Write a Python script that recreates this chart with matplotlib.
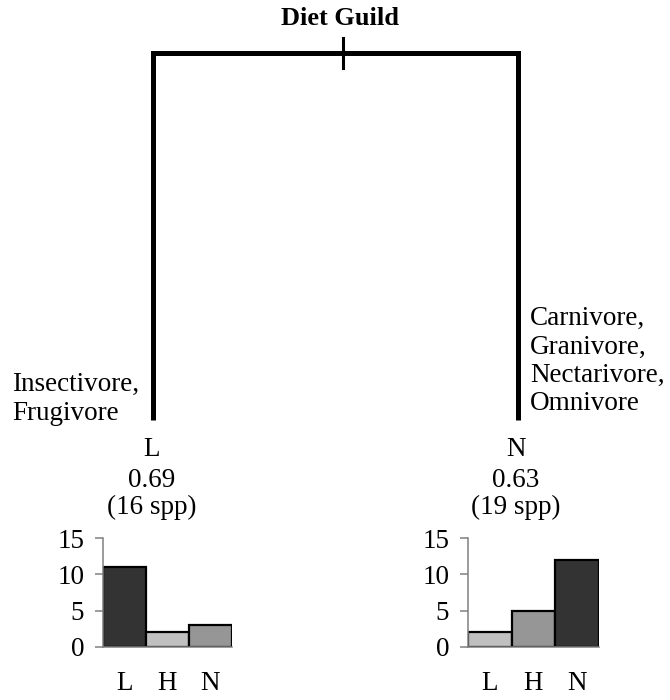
import matplotlib.pyplot as plt

plt.rcParams['font.family'] = ['Liberation Serif', 'DejaVu Serif']

title = "Diet Guild"
categories = ["L", "H", "N"]

# left node
left_label = ["Insectivore,", "Frugivore"]
left_class = "L"
left_prob = 0.69
left_spp = 16
left_counts = [11, 2, 3]

# right node
right_label = ["Carnivore,", "Granivore,", "Nectarivore,", "Omnivore"]
right_class = "N"
right_prob = 0.63
right_spp = 19
right_counts = [2, 5, 12]

W, H = 670, 700
fs = 19.5
fig = plt.figure(figsize=(W / 100, H / 100), dpi=100)

# tree drawn in pixel coordinates
tree = fig.add_axes([0, 0, 1, 1])
tree.set_xlim(0, W)
tree.set_ylim(H, 0)
tree.axis('off')

node_x = [153, 518]
top_y, leaf_y = 53, 420
split_x = 343
tree.plot([node_x[0], node_x[0], node_x[1], node_x[1]],
          [leaf_y, top_y, top_y, leaf_y], color='black', lw=3.6,
          solid_joinstyle='miter', solid_capstyle='butt')
tree.plot([split_x, split_x], [38, 68], color='black', lw=2.2)
tree.text(340, 25, title, ha='center', va='baseline', fontsize=19,
          fontweight='bold')

for i, s in enumerate(left_label):
    tree.text(12, 391 + 28.5 * i, s, ha='left', va='baseline', fontsize=fs)
for i, s in enumerate(right_label):
    tree.text(530, 325 + 28.5 * i, s, ha='left', va='baseline', fontsize=fs)

for x, cls, p, n in [(152, left_class, left_prob, left_spp),
                     (516, right_class, right_prob, right_spp)]:
    tree.text(x, 456, cls, ha='center', va='baseline', fontsize=fs)
    tree.text(x, 487, f"{p:.2f}", ha='center', va='baseline', fontsize=fs)
    tree.text(x, 514, f"({n} spp)", ha='center', va='baseline', fontsize=fs)


def colors_for(counts):
    # darkest for majority class, mid for second, light for least
    order = sorted(range(len(counts)), key=lambda i: -counts[i])
    shade = ["#333333", "#969696", "#c0c0c0"]
    c = [None] * len(counts)
    for rank, i in enumerate(order):
        c[i] = shade[rank]
    return c


def bar_panel(rect, counts):
    ax = fig.add_axes(rect)
    ax.bar([0.5, 1.5, 2.5], counts, width=1.0, color=colors_for(counts),
           edgecolor='black', linewidth=1.6)
    ax.set_xlim(0, 3)
    ax.set_ylim(0, 15)
    ax.set_yticks([0, 5, 10, 15])
    ax.set_xticks([0.5, 1.5, 2.5])
    ax.set_xticklabels(categories)
    for sp in ['top', 'right']:
        ax.spines[sp].set_visible(False)
    for sp in ['left', 'bottom']:
        ax.spines[sp].set_color('#808080')
        ax.spines[sp].set_linewidth(1.1)
    ax.tick_params(axis='y', length=5.5, width=1.1, color='#808080',
                   labelsize=fs, pad=8)
    ax.tick_params(axis='x', length=0, labelsize=fs, pad=17)
    ax.patch.set_alpha(0)
    return ax


bar_panel([103 / W, 53 / H, 129 / W, 109 / H], left_counts)
bar_panel([468 / W, 53 / H, 131 / W, 109 / H], right_counts)

fig.savefig("out.png", dpi=100)
